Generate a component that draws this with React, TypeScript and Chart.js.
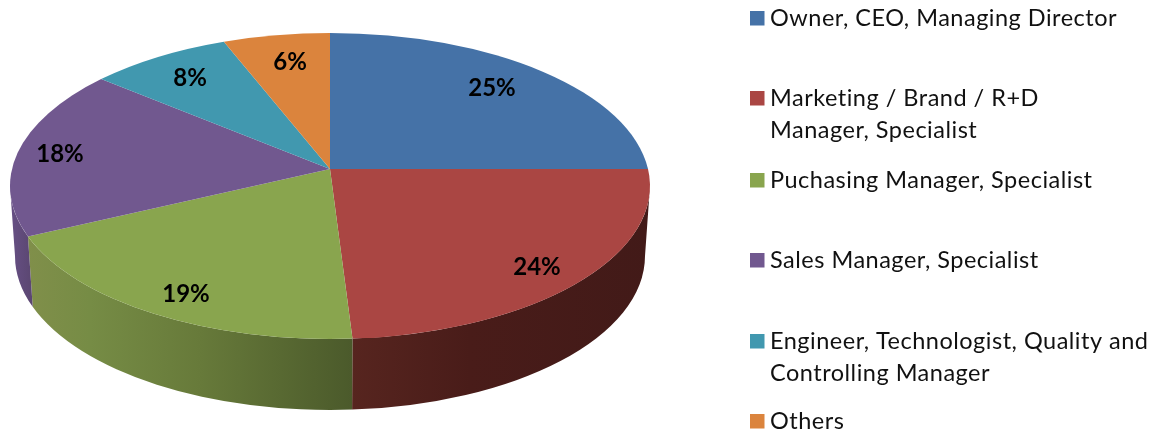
import React, { useEffect, useRef } from "react";
import { Chart, registerables, ArcElement, PieController } from "chart.js";

const categories = [
  "Owner, CEO, Managing Director",
  ["Marketing / Brand / R+D", "Manager, Specialist"],
  "Puchasing Manager, Specialist",
  "Sales Manager, Specialist",
  ["Engineer, Technologist, Quality and", "Controlling Manager"],
  "Others",
];
const shares = [25, 24, 19, 18, 8, 6];
const sliceColors = ["#4572A7", "#AA4643", "#89A54E", "#71588F", "#4198AF", "#DB843D"];
const labelCenters: [number, number][] = [[492, 88], [537, 267], [186, 294], [60, 154], [190, 78], [290, 62]];
const legendCenters = [18, 98, 180, 260, 341, 421];

const TOP = { cx: 330, cy: 186, rx: 320, ry: 153 };
const BOT = { cx: 330, cy: 256, rx: 315, ry: 154 };
const ECC = 17 / 153;
const LEGEND_FONT = "23.5px Lato, sans-serif";
const LABEL_FONT = "bold 24px Lato, sans-serif";

const wallStops: Record<number, [number, string][]> = {
  1: [[350, "#57251F"], [470, "#491C19"], [650, "#421A18"]],
  2: [[28, "#808F4A"], [90, "#768C45"], [200, "#677A3A"], [352, "#4B5A2B"]],
  3: [[10, "#675085"], [33, "#5A4670"]],
};

function rimAngle(a: number) {
  const u = Math.cos(a), v = Math.sin(a);
  const d = 1 - v * ECC;
  const up = (u * Math.sqrt(1 - ECC * ECC)) / d;
  const vp = (v - ECC) / d;
  return Math.atan2(vp, up);
}

class PerspectiveArc extends ArcElement {
  static id = "perspectiveArc";
  draw(ctx: CanvasRenderingContext2D) {
    const { startAngle, endAngle } = this as any;
    const color = (this as any).options.backgroundColor;
    const index = sliceColors.indexOf(color);
    const a = rimAngle(startAngle);
    let b = rimAngle(endAngle);
    while (b < a) b += Math.PI * 2;

    const w0 = Math.max(a, 0), w1 = Math.min(b, Math.PI);
    if (w1 > w0 && wallStops[index]) {
      const stops = wallStops[index];
      const x0 = stops[0][0], x1 = stops[stops.length - 1][0];
      const g = ctx.createLinearGradient(x0, 0, x1, 0);
      stops.forEach(([x, c]) => g.addColorStop((x - x0) / (x1 - x0), c));
      ctx.beginPath();
      ctx.ellipse(TOP.cx, TOP.cy, TOP.rx, TOP.ry, 0, w0, w1);
      ctx.ellipse(BOT.cx, BOT.cy, BOT.rx, BOT.ry, 0, w1, w0, true);
      ctx.closePath();
      ctx.fillStyle = g;
      ctx.fill();
    }

    ctx.beginPath();
    ctx.moveTo(TOP.cx, TOP.cy - ECC * TOP.ry);
    ctx.ellipse(TOP.cx, TOP.cy, TOP.rx, TOP.ry, 0, a, b);
    ctx.closePath();
    ctx.fillStyle = color;
    ctx.fill();
  }
}

class PerspectivePie extends PieController {
  static id = "perspectivePie";
  static defaults = { dataElementType: "perspectiveArc" };
}

Chart.register(...registerables, PerspectiveArc, PerspectivePie);

const textPlugin = {
  id: "textPlugin",
  afterDatasetsDraw(chart: any) {
    const ctx: CanvasRenderingContext2D = chart.ctx;
    const values = chart.data.datasets[0].data as number[];
    const total = values.reduce((s, v) => s + v, 0);
    ctx.save();
    (ctx as any).filter = "blur(0.4px)";
    ctx.fillStyle = "#000";
    ctx.textBaseline = "middle";
    ctx.textAlign = "center";
    ctx.font = LABEL_FONT;
    values.forEach((v, i) => {
      ctx.fillText(`${Math.round((v / total) * 100)}%`, labelCenters[i][0], labelCenters[i][1]);
    });
    ctx.textAlign = "left";
    ctx.font = LEGEND_FONT;
    (ctx as any).letterSpacing = "0.5px";
    (chart.data.labels as (string | string[])[]).forEach((label, i) => {
      const y = legendCenters[i];
      ctx.fillStyle = sliceColors[i];
      ctx.fillRect(750, y - 7, 14.5, 14.5);
      ctx.fillStyle = "#111";
      const lines = Array.isArray(label) ? label : [label];
      lines.forEach((line, k) => ctx.fillText(line, 770, y + k * 32));
    });
    ctx.restore();
  },
};

export default function App() {
  const ref = useRef<HTMLCanvasElement>(null);
  useEffect(() => {
    document.body.style.margin = "0";
    const chart = new Chart(ref.current!, {
      type: "perspectivePie" as any,
      data: {
        labels: categories as any,
        datasets: [{ data: shares, backgroundColor: sliceColors, borderWidth: 0 }],
      },
      options: {
        animation: false,
        responsive: false,
        plugins: { legend: { display: false }, tooltip: { enabled: false } },
      },
      plugins: [textPlugin],
    });
    return () => chart.destroy();
  }, []);
  return <canvas ref={ref} width={1164} height={434} style={{ display: "block" }} />;
}
